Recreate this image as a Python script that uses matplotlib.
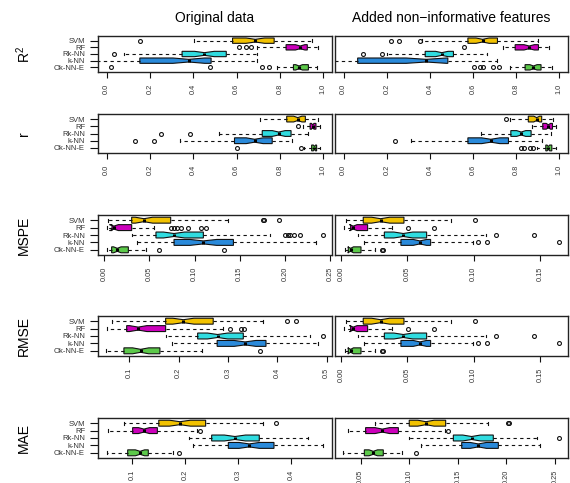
import matplotlib
matplotlib.use("Agg")
import matplotlib.pyplot as plt
import numpy as np

plt.rcParams['font.family'] = ['Liberation Sans', 'DejaVu Sans']

# ---------------- data ----------------
methods = ["SVM", "RF", "Rk-NN", "k-NN", "Ok-NN-E"]
colors = ["#F2C200", "#CC00BB", "#30DCE0", "#2A8ADA", "#5CC94A"]
col_titles = ["Original data", "Added non\u2212informative features"]
row_labels = [r"$\mathregular{R^2}$", "r", "MSPE", "RMSE", "MAE"]

# per method: [lower whisker, Q1, median, Q3, upper whisker]
r2_orig = [[0.402, 0.581, 0.686, 0.773, 0.949],
           [0.693, 0.828, 0.893, 0.926, 0.977],
           [0.080, 0.348, 0.451, 0.552, 0.693],
           [-0.350, 0.153, 0.379, 0.482, 0.693],
           [0.785, 0.862, 0.888, 0.931, 0.972]]
r2_orig_out = [[0.153], [0.613, 0.644, 0.666], [0.034], [], [0.018, 0.475, 0.716, 0.747]]

r2_added = [[0.363, 0.576, 0.644, 0.713, 0.903],
            [0.738, 0.795, 0.860, 0.903, 0.954],
            [0.201, 0.378, 0.455, 0.509, 0.664],
            [-0.400, 0.065, 0.383, 0.483, 0.710],
            [0.772, 0.841, 0.880, 0.915, 0.965]]
r2_added_out = [[0.219, 0.256, 0.352], [0.560], [0.090, 0.177], [], [0.606, 0.633, 0.648, 0.694, 0.718]]

r_orig = [[0.706, 0.831, 0.882, 0.917, 0.974],
          [0.908, 0.939, 0.951, 0.966, 0.985],
          [0.518, 0.718, 0.794, 0.851, 0.928],
          [0.337, 0.590, 0.683, 0.764, 0.856],
          [0.913, 0.946, 0.959, 0.969, 0.985]]
r_orig_out = [[], [0.885], [0.253, 0.383], [0.130, 0.218], [0.601, 0.897]]

r_added = [[0.772, 0.856, 0.895, 0.918, 0.969],
           [0.872, 0.923, 0.949, 0.968, 0.985],
           [0.637, 0.775, 0.823, 0.869, 0.960],
           [0.312, 0.576, 0.682, 0.764, 0.918],
           [0.895, 0.937, 0.949, 0.965, 0.985]]
r_added_out = [[0.752], [], [], [0.239], [0.821, 0.836, 0.864, 0.880]]

mspe_orig = [[0.0037, 0.0303, 0.0439, 0.0735, 0.137],
             [0.0026, 0.0085, 0.0107, 0.0303, 0.0554],
             [0.0310, 0.0572, 0.0772, 0.1097, 0.184],
             [0.0358, 0.0772, 0.1097, 0.1430, 0.2345],
             [0.0026, 0.0081, 0.0144, 0.0266, 0.0462]]
mspe_orig_out = [[0.176, 0.177, 0.193],
                 [0.0735, 0.0772, 0.0809, 0.0846, 0.093, 0.107, 0.1126],
                 [0.200, 0.203, 0.206, 0.210, 0.2168, 0.2419],
                 [],
                 [0.0606, 0.1326]]

mspe_added = [[0.0038, 0.0168, 0.0299, 0.0475, 0.0829],
              [0.0023, 0.0073, 0.0093, 0.0201, 0.0382],
              [0.0131, 0.0327, 0.0470, 0.0646, 0.1093],
              [0.0176, 0.0452, 0.0595, 0.0676, 0.0995],
              [0.0030, 0.0055, 0.0073, 0.0151, 0.0256]]
mspe_added_out = [[0.101], [0.0508, 0.0704], [0.1168, 0.1457],
                  [0.1035, 0.1098, 0.1643], [0.0307, 0.0319]]

rmse_orig = [[0.0642, 0.1736, 0.2095, 0.270, 0.3716],
             [0.0554, 0.0946, 0.1180, 0.1736, 0.2905],
             [0.1736, 0.2385, 0.2790, 0.331, 0.466],
             [0.1870, 0.2780, 0.3345, 0.377, 0.483],
             [0.0527, 0.0890, 0.1230, 0.162, 0.2466]]
rmse_orig_out = [[0.419, 0.438], [0.304, 0.327, 0.333], [0.4919], [], [0.365]]

rmse_added = [[0.0038, 0.0168, 0.0299, 0.0475, 0.0829],
              [0.0023, 0.0073, 0.0093, 0.0201, 0.0382],
              [0.0131, 0.0327, 0.0470, 0.0646, 0.1093],
              [0.0176, 0.0452, 0.0595, 0.0676, 0.0995],
              [0.0030, 0.0055, 0.0073, 0.0151, 0.0256]]
rmse_added_out = [[0.101], [0.0508, 0.0704], [0.1168, 0.1457],
                  [0.1035, 0.1098, 0.1643], [0.0307, 0.0319]]

mae_orig = [[0.0842, 0.1500, 0.1900, 0.2386, 0.3476],
            [0.0534, 0.1006, 0.1220, 0.1473, 0.2216],
            [0.2077, 0.2500, 0.2940, 0.3400, 0.4327],
            [0.2153, 0.2815, 0.3210, 0.3678, 0.4598],
            [0.0515, 0.0912, 0.1145, 0.1302, 0.1775]]
mae_orig_out = [[0.3716], [0.228], [], [], [0.1888]]

mae_added = [[0.0648, 0.1000, 0.1172, 0.1375, 0.1814],
             [0.0366, 0.0551, 0.0723, 0.0888, 0.1368],
             [0.1000, 0.1454, 0.1642, 0.1865, 0.2311],
             [0.1117, 0.1540, 0.1711, 0.1917, 0.2346],
             [0.0322, 0.0538, 0.0630, 0.0733, 0.0922]]
mae_added_out = [[0.2013, 0.203], [0.1402], [0.2541], [], [0.107]]

n_obs = 50  # sample size used for notch width (R: 1.58*IQR/sqrt(n))

# axis settings per panel: (xlim, ticks, format)
r2_ticks = [0.0, 0.2, 0.4, 0.6, 0.8, 1.0]
panels = [
    [(r2_orig, r2_orig_out, (-0.04, 1.04), r2_ticks, "{:.1f}"),
     (r2_added, r2_added_out, (-0.04, 1.04), r2_ticks, "{:.1f}")],
    [(r_orig, r_orig_out, (-0.04, 1.04), r2_ticks, "{:.1f}"),
     (r_added, r_added_out, (-0.04, 1.04), r2_ticks, "{:.1f}")],
    [(mspe_orig, mspe_orig_out, (-0.007, 0.2522), [0, 0.05, 0.10, 0.15, 0.20, 0.25], "{:.2f}"),
     (mspe_added, mspe_added_out, (-0.0045, 0.1712), [0, 0.05, 0.10, 0.15], "{:.2f}")],
    [(rmse_orig, rmse_orig_out, (0.0365, 0.5108), [0.1, 0.2, 0.3, 0.4, 0.5], "{:.1f}"),
     (rmse_added, rmse_added_out, (-0.0045, 0.1712), [0, 0.05, 0.10, 0.15], "{:.2f}")],
    [(mae_orig, mae_orig_out, (0.0351, 0.4775), [0.1, 0.2, 0.3, 0.4], "{:.1f}"),
     (mae_added, mae_added_out, (0.0236, 0.2634), [0.05, 0.10, 0.15, 0.20, 0.25], "{:.2f}")],
]

# ---------------- layout (pixels) ----------------
W, H = 570, 483
fig = plt.figure(figsize=(W / 100, H / 100), dpi=100)
col_x = [(98, 332), (335, 568)]
row_y = [(36, 72), (114, 153), (215, 255), (316, 356), (418, 458)]
positions = [5, 4, 3, 2, 1]

for ri, row in enumerate(panels):
    y0, y1 = row_y[ri]
    for ci, (stats, outs, xlim, ticks, fmt) in enumerate(row):
        x0, x1 = col_x[ci]
        ax = fig.add_axes([x0 / W, 1 - y1 / H, (x1 - x0) / W, (y1 - y0) / H])
        bx = []
        for (lo, q1, med, q3, hi), fl in zip(stats, outs):
            half = 1.58 * (q3 - q1) / np.sqrt(n_obs)
            bx.append(dict(whislo=lo, q1=q1, med=med, q3=q3, whishi=hi,
                           fliers=fl, cilo=med - half, cihi=med + half))
        art = ax.bxp(bx, positions=positions, widths=0.8, orientation='horizontal',
                     shownotches=True, patch_artist=True,
                     boxprops=dict(edgecolor='#111111', linewidth=0.8),
                     whiskerprops=dict(color='#111111', linestyle=(0, (3, 3)), linewidth=0.8),
                     capprops=dict(color='#111111', linewidth=0.8),
                     medianprops=dict(color='black', linewidth=2.2, solid_capstyle='butt'),
                     flierprops=dict(marker='o', markerfacecolor='none',
                                     markeredgecolor='#111111', markersize=2.8,
                                     markeredgewidth=0.8))
        for patch, c in zip(art['boxes'], colors):
            patch.set_facecolor(c)
        ax.set_xlim(*xlim)
        ax.set_ylim(0.3, 5.7)
        ax.set_xticks(ticks, labels=[fmt.format(t) for t in ticks])
        ax.tick_params(axis='x', length=4.2, width=0.8, labelsize=5.3,
                       labelrotation=90, pad=4, colors='#111111', labelcolor='#333333')
        if ci == 0:
            ax.set_yticks(positions, labels=methods)
            ax.tick_params(axis='y', length=5.8, width=0.8, labelsize=5.5,
                           pad=3.5, colors='#111111', labelcolor='#333333')
        else:
            ax.set_yticks([])
        for s in ax.spines.values():
            s.set_linewidth(1.0)
            s.set_color('#222222')
    fig.text(24 / W, 1 - (y0 + y1) / 2 / H, row_labels[ri], rotation=90,
             ha='center', va='center', fontsize=10)

for ci, t in enumerate(col_titles):
    x0, x1 = col_x[ci]
    fig.text((x0 + x1) / 2 / W, 1 - 18 / H, t, ha='center', va='center', fontsize=10)

fig.savefig("out.png", dpi=100)
